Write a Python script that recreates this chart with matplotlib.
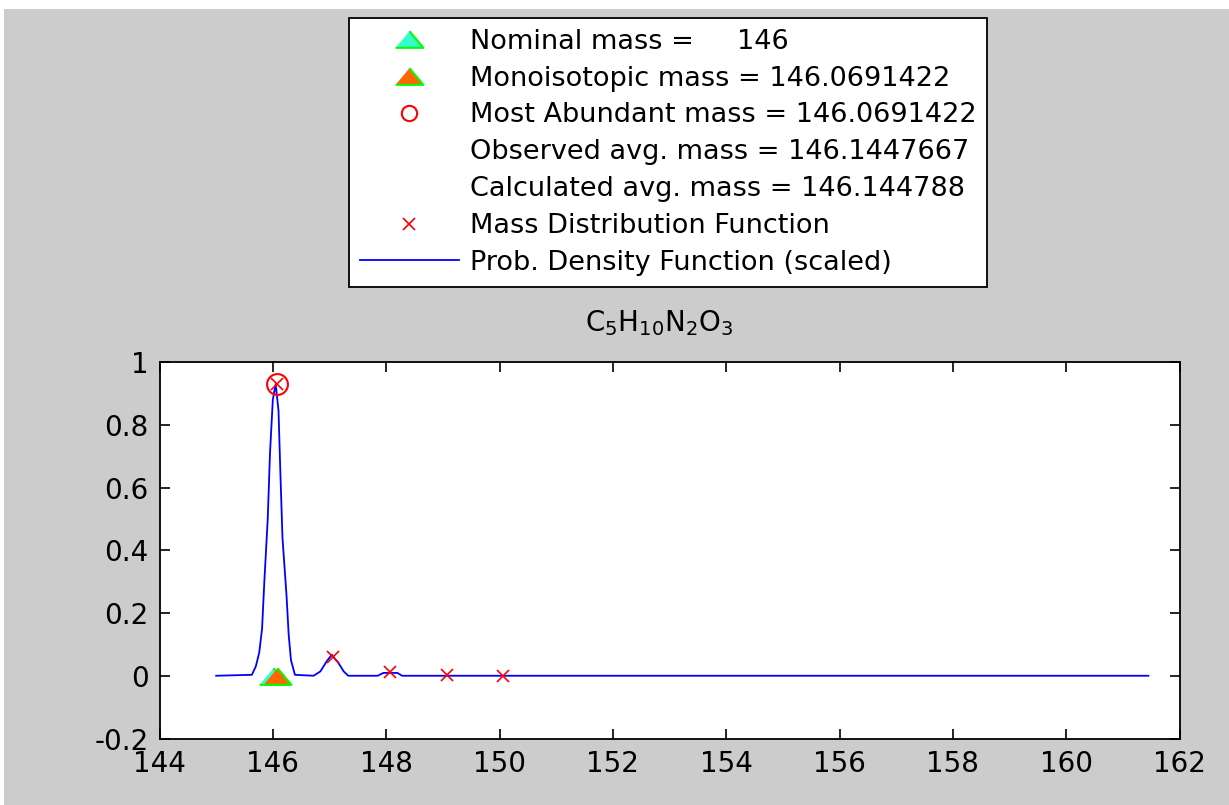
import matplotlib
matplotlib.use("Agg")
import matplotlib.pyplot as plt
from matplotlib.lines import Line2D
from matplotlib.patches import Rectangle

plt.rcParams['font.family'] = ['DejaVu Sans']
plt.rcParams['mathtext.fontset'] = 'dejavusans'
plt.rcParams['mathtext.default'] = 'regular'

# values
formula = r'C$_5$H$_{10}$N$_2$O$_3$'
nominal_mass = 146
mono_mass = 146.0691422
abundant_mass = 146.0691422
abundant_height = 0.93
observed_avg = '146.1447667'
calculated_avg = '146.144788'

mdf_mass = [146.0691422, 147.07, 148.07, 149.07, 150.07]
mdf_prob = [0.93, 0.06, 0.013, 0.0008, 0.0002]

pdf_x = [145.0, 145.63, 145.70, 145.76, 145.81, 145.85, 145.91, 145.95, 146.0, 146.05,
         146.10, 146.13, 146.17, 146.24, 146.28, 146.32, 146.39, 146.72, 146.84, 146.95,
         147.04, 147.16, 147.25, 147.33, 147.85, 147.95, 148.07, 148.20, 148.28, 161.45]
pdf_y = [0.0, 0.003, 0.03, 0.074, 0.15, 0.30, 0.50, 0.71, 0.88, 0.93,
         0.845, 0.665, 0.44, 0.26, 0.13, 0.05, 0.003, 0.0, 0.014, 0.046,
         0.067, 0.04, 0.014, 0.0, 0.0, 0.009, 0.009, 0.009, 0.0, 0.0]

xticks = [144, 146, 148, 150, 152, 154, 156, 158, 160, 162]
yticks = [-0.2, 0, 0.2, 0.4, 0.6, 0.8, 1]

fig = plt.figure(figsize=(12.29, 8.05), dpi=100, facecolor='#cccccc')
# white strip at top/left edge from the page the figure was cut from
fig.patches.append(Rectangle((0, 1 - 9 / 805), 1, 9 / 805, transform=fig.transFigure,
                             facecolor='white', edgecolor='none', zorder=0))
fig.patches.append(Rectangle((0, 0), 4 / 1229, 1, transform=fig.transFigure,
                             facecolor='white', edgecolor='none', zorder=0))

ax = fig.add_axes([159.5 / 1229, (805 - 738.5) / 805, 1020 / 1229, 376.5 / 805])

tri = [(-1, -0.6), (1, -0.6), (0, 0.6)]

ax.plot(pdf_x, pdf_y, color='#0000ff', lw=1.3, zorder=2)
ax.plot(mdf_mass, mdf_prob, ls='none', marker='x', color='red', ms=8, mew=1.2, zorder=3)
ax.plot([abundant_mass], [abundant_height], ls='none', marker='o', mfc='none', mec='red',
        ms=15, mew=1.5, zorder=4)
ax.plot([nominal_mass], [0], ls='none', marker=tri, mfc='#33ffcc', mec='#00ff00', ms=20, mew=1.5, zorder=4)
ax.plot([mono_mass], [0], ls='none', marker=tri, mfc='#ff6600', mec='#00ff00', ms=20, mew=1.5, zorder=5)

ax.set_xlim(144, 162)
ax.set_ylim(-0.2, 1)
ax.set_xticks(xticks)
ax.set_yticks(yticks)
ax.set_yticklabels(['-0.2', '0', '0.2', '0.4', '0.6', '0.8', '1'])
ax.tick_params(direction='in', length=7, width=1.2, top=True, right=True,
               labelsize=20, pad=8, colors='black')
for s in ax.spines.values():
    s.set_linewidth(1.3)
ax.set_title(formula, fontsize=20, pad=22, x=0.49)

handles = [
    Line2D([], [], ls='none', marker=tri, mfc='#33ffcc', mec='#00ff00', ms=20, mew=1.5),
    Line2D([], [], ls='none', marker=tri, mfc='#ff6600', mec='#00ff00', ms=20, mew=1.5),
    Line2D([], [], ls='none', marker='o', mfc='none', mec='red', ms=11, mew=1.5),
    Line2D([], [], ls='none'),
    Line2D([], [], ls='none'),
    Line2D([], [], ls='none', marker='x', color='red', ms=8, mew=1.2),
    Line2D([], [], color='#0000ff', lw=1.3),
]
labels = [
    'Nominal mass =     %d' % nominal_mass,
    'Monoisotopic mass = %.7f' % mono_mass,
    'Most Abundant mass = %.7f' % abundant_mass,
    'Observed avg. mass = ' + observed_avg,
    'Calculated avg. mass = ' + calculated_avg,
    'Mass Distribution Function',
    'Prob. Density Function (scaled)',
]
leg = fig.legend(handles, labels, loc='upper left', bbox_to_anchor=(349 / 1229, 1 - 18 / 805),
                 fontsize=19.5, frameon=True, fancybox=False, framealpha=1, facecolor='white',
                 edgecolor='black', handlelength=3.65, handletextpad=0.4, borderpad=0.4,
                 labelspacing=0.4, borderaxespad=0)
leg.get_frame().set_linewidth(1.3)

fig.savefig('out.png', dpi=100, facecolor=fig.get_facecolor())
